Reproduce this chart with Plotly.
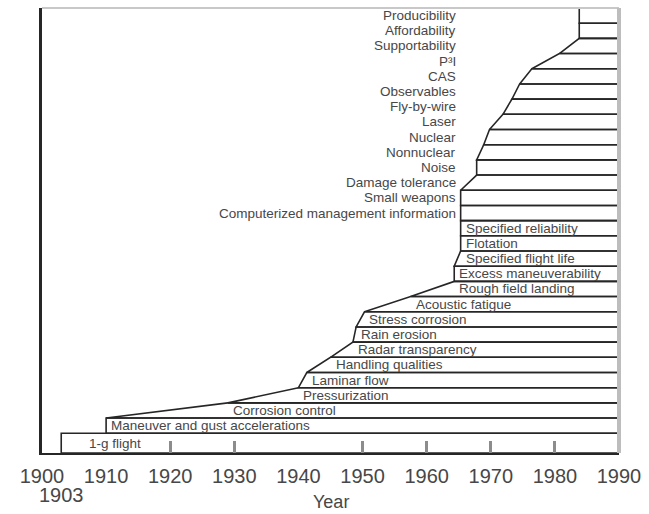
import plotly.graph_objects as go

# ---- data -------------------------------------------------------------
requirements = [
    "1-g flight", "Maneuver and gust accelerations", "Corrosion control",
    "Pressurization", "Laminar flow", "Handling qualities",
    "Radar transparency", "Rain erosion", "Stress corrosion",
    "Acoustic fatigue", "Rough field landing", "Excess maneuverability",
    "Specified flight life", "Flotation", "Specified reliability",
    "Computerized management information", "Small weapons",
    "Damage tolerance", "Noise", "Nonnuclear", "Nuclear", "Laser",
    "Fly-by-wire", "Observables", "CAS", "P³I",
    "Supportability", "Affordability", "Producibility",
]
# year at which each requirement's band begins (lower and upper corner)
start_bottom = [1903, 1910, 1910, 1929, 1940, 1941.3, 1945, 1948.5, 1949,
                1950.3, 1957.5, 1964.3, 1964.3, 1965.3, 1965.3, 1965.3,
                1965.3, 1965.3, 1967.8, 1967.8, 1968.9, 1969.8, 1971.9,
                1973.3, 1974.5, 1976.4, 1980.7, 1983.8, 1983.8]
start_top = [1903, 1910, 1929, 1940, 1941.3, 1945, 1948.5, 1949, 1950.3,
             1957.5, 1964.3, 1964.3, 1965.3, 1965.3, 1965.3, 1965.3,
             1965.3, 1967.8, 1967.8, 1968.9, 1969.8, 1971.9, 1973.3,
             1974.5, 1976.4, 1980.7, 1983.8, 1983.8, 1983.8]
end_year = 1990
n_inside = 15  # first bands carry their label inside

tick_years = [1900, 1910, 1920, 1930, 1940, 1950, 1960, 1970, 1980, 1990]
tick_labels = [str(y) for y in tick_years]
first_flight_year = 1903          # extra, lower tick label
inner_ticks = [1920, 1930, 1950, 1960, 1970, 1980]

# ---- figure -----------------------------------------------------------
Y_MIN, Y_MAX = -0.3, len(requirements)
LINE = "#262626"
TEXT = "#474747"
FONT = "Liberation Sans, Arial, sans-serif"
LABEL_SIZE = 13.5

fig = go.Figure()
annotations = []
for k, name in enumerate(requirements):
    y0 = k if k > 0 else Y_MIN
    y1 = k + 1
    fig.add_trace(go.Scatter(
        x=[end_year, start_bottom[k], start_top[k], end_year],
        y=[y0, y0, y1, y1],
        mode="lines", line=dict(color=LINE, width=1.6),
        hoverinfo="skip", showlegend=False))
    if k < n_inside:
        annotations.append(dict(
            x=start_top[k], y=(y0 + y1) / 2, xref="x", yref="y",
            text=name, showarrow=False, xanchor="left", yanchor="middle",
            xshift=26 if k == 0 else 3,
            font=dict(family=FONT, size=LABEL_SIZE, color=TEXT)))
    else:
        annotations.append(dict(
            x=start_top[n_inside], y=(y0 + y1) / 2, xref="x", yref="y",
            text=name, showarrow=False, xanchor="right", yanchor="middle",
            xshift=-3, font=dict(family=FONT, size=LABEL_SIZE, color=TEXT)))

annotations.append(dict(
    x=first_flight_year, y=0, xref="x", yref="paper",
    text=str(first_flight_year), showarrow=False,
    xanchor="center", yanchor="middle", yshift=-42,
    font=dict(family=FONT, size=20, color=TEXT)))
annotations.append(dict(
    x=0.5, y=0, xref="paper", yref="paper", text="Year", showarrow=False,
    xanchor="center", yanchor="middle", yshift=-49, borderpad=0,
    font=dict(family=FONT, size=18, color=TEXT)))

fig.update_layout(
    width=649, height=514,
    margin=dict(l=42, r=26, t=8, b=61),
    paper_bgcolor="white", plot_bgcolor="white",
    annotations=annotations,
    xaxis=dict(
        range=[1900, end_year], showgrid=False, zeroline=False,
        showline=True, linecolor=LINE, linewidth=2,
        tickmode="array", tickvals=tick_years, ticktext=tick_labels,
        ticks="", tickangle=0, ticklabelstandoff=4,
        tickfont=dict(family=FONT, size=20, color=TEXT),
        minor=dict(tickmode="array", tickvals=inner_ticks, ticks="inside",
                   ticklen=12, tickwidth=3, tickcolor="#8c8c8c",
                   showgrid=False),
    ),
    yaxis=dict(
        range=[Y_MIN, Y_MAX], showgrid=False, zeroline=False,
        showticklabels=False, ticks="",
        showline=True, linecolor=LINE, linewidth=3,
    ),
    shapes=[
        dict(type="line", xref="paper", yref="paper", x0=0, x1=1, y0=1, y1=1,
             line=dict(color="#c8c8c8", width=2)),
        dict(type="line", xref="paper", yref="paper", x0=1, x1=1, y0=0, y1=1,
             line=dict(color="#bdbdbd", width=4)),
    ],
)

fig.write_html(
    "out.html",
    config={"displayModeBar": False},
    post_script="document.body.style.margin='0';document.body.style.padding='0';",
)
